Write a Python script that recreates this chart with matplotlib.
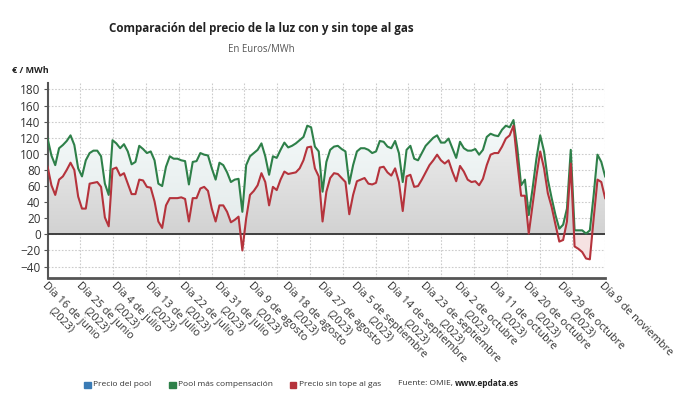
import datetime as dt

import matplotlib.pyplot as plt
import numpy as np
from matplotlib.colors import LinearSegmentedColormap
from matplotlib.patches import Rectangle
from matplotlib.path import Path

plt.rcParams['font.family'] = ['Open Sans', 'DejaVu Sans']

# datos diarios desde el 16 de junio hasta el 9 de noviembre de 2023
inicio = dt.date(2023, 6, 16)

pool_compensacion = [
    119, 98, 86, 107, 111, 116, 123, 111, 82, 72,
    92, 101, 104, 104, 97, 63, 49, 117, 113, 107,
    112, 103, 87, 90, 110, 106, 101, 103, 92, 63,
    60, 84, 97, 94, 94, 92, 91, 62, 90, 91,
    101, 99, 98, 82, 68, 89, 86, 77, 65, 68,
    69, 28, 86, 97, 101, 105, 113, 97, 74, 97,
    95, 105, 114, 108, 110, 113, 117, 121, 135, 133,
    109, 103, 53, 90, 105, 109, 110, 106, 103, 63,
    86, 103, 107, 107, 105, 101, 103, 116, 115, 109,
    107, 116, 101, 65, 105, 110, 94, 92, 101, 110,
    115, 120, 123, 114, 114, 119, 107, 95, 115, 107,
    104, 104, 106, 99, 105, 121, 125, 123, 122, 130,
    135, 133, 142, 107, 61, 68, 24, 57, 94, 123,
    103, 68, 45, 24, 7, 12, 32, 105, 5, 5,
    5, 1, 5, 49, 99, 90, 72,
]

precio_sin_tope = [
    84, 61, 49, 68, 72, 80, 89, 80, 47, 32,
    32, 63, 64, 65, 59, 21, 10, 81, 83, 73,
    76, 63, 50, 50, 68, 67, 59, 58, 41, 16,
    8, 36, 45, 45, 45, 46, 44, 16, 45, 45,
    57, 59, 54, 32, 16, 36, 36, 28, 15, 18,
    22, -20, 20, 49, 54, 61, 76, 65, 36, 59,
    55, 68, 78, 75, 76, 77, 82, 92, 108, 109,
    82, 72, 16, 53, 70, 76, 75, 70, 65, 25,
    49, 66, 68, 70, 63, 62, 64, 83, 84, 77,
    73, 82, 65, 29, 72, 74, 59, 60, 68, 77,
    86, 92, 99, 92, 88, 92, 78, 66, 85, 78,
    68, 65, 66, 61, 69, 86, 99, 101, 101, 109,
    119, 123, 135, 90, 48, 48, 1, 36, 72, 103,
    82, 51, 34, 12, -9, -7, 16, 88, -15, -18,
    -22, -30, -31, 20, 68, 65, 45,
]

meses = {6: 'junio', 7: 'julio', 8: 'agosto', 9: 'septiembre',
         10: 'octubre', 11: 'noviembre'}

x = np.arange(len(pool_compensacion))
verde = np.array(pool_compensacion, dtype=float)
rojo = np.array(precio_sin_tope, dtype=float)

fechas = [inicio + dt.timedelta(days=int(i)) for i in x]
pos_ticks = list(range(0, len(x) - 9, 9)) + [len(x) - 1]
etiquetas = []
for p in pos_ticks:
    f = fechas[p]
    txt = 'Día %d de %s' % (f.day, meses[f.month])
    if p != len(x) - 1:
        txt += '\n(2023)'
    etiquetas.append(txt)

fig = plt.figure(figsize=(6.9, 4.05), dpi=100)
ax = fig.add_axes([0.069, 0.314, 0.808, 0.481])

ymin, ymax = -54, 188


def relleno_degradado(y, color_arriba, color_abajo, tope, z):
    coll = ax.fill_between(x, 0, y, facecolor='none', edgecolor='none')
    camino = Path.make_compound_path(*coll.get_paths())
    cmap = LinearSegmentedColormap.from_list('deg', [color_abajo, color_arriba])
    grad = np.linspace(0, 1, 256).reshape(-1, 1)
    im = ax.imshow(grad, cmap=cmap, aspect='auto', origin='lower',
                   extent=[x[0], x[-1], 0, tope], zorder=z)
    im.set_clip_path(camino, transform=ax.transData)


relleno_degradado(verde, '#f5fafa', '#e3eaea', 145, 1)
relleno_degradado(np.clip(rojo, 0, None), '#f0f0f0', '#d2d2d2', 140, 2)
ax.fill_between(x, 0, rojo, where=rojo < 0, interpolate=True,
                facecolor='#f6e2e2', edgecolor='none', zorder=2)

ax.plot(x, verde, color='#2e8049', lw=1.5, zorder=5)
ax.plot(x, rojo, color='#b5333c', lw=1.5, zorder=5)
ax.axhline(0, color='#333333', lw=1.3, zorder=4)

ax.set_xlim(x[0], x[-1])
ax.set_ylim(ymin, ymax)

# rejilla punteada
for gx in np.linspace(x[0], x[-1], 18)[1:]:
    ax.axvline(gx, color='#cccccc', lw=0.8, ls=(0, (1.5, 1.5)), zorder=0.5)
ax.set_yticks(np.arange(-40, 181, 20))
ax.yaxis.grid(True, color='#cccccc', lw=0.8, ls=(0, (1.5, 1.5)), zorder=0.5)
ax.set_axisbelow(True)

ax.set_xticks(pos_ticks)
ax.set_xticklabels(etiquetas, rotation=-45, ha='left', va='top',
                   rotation_mode='anchor', multialignment='center',
                   fontsize=7.8, color='#333333')
ax.tick_params(axis='x', length=0, pad=2)
ax.tick_params(axis='y', length=3, width=0.8, color='#555555',
               labelsize=8.5, labelcolor='#333333', pad=2)

for lado in ['top', 'right']:
    ax.spines[lado].set_visible(False)
ax.spines['left'].set_color('#555555')
ax.spines['left'].set_linewidth(1.5)
ax.spines['bottom'].set_color('#555555')
ax.spines['bottom'].set_linewidth(2)

fig.text(0.379, 0.930, 'Comparación del precio de la luz con y sin tope al gas',
         ha='center', va='center', fontsize=8.4, fontweight='bold', color='#222222')
fig.text(0.379, 0.877, 'En Euros/MWh', ha='center', va='center',
         fontsize=6.9, color='#555555')
fig.text(0.017, 0.825, '€ / MWh', ha='left', va='center',
         fontsize=6.5, fontweight='bold', color='#222222')

# leyenda
series = [('Precio del pool', '#3a7bb5', 0.1217),
          ('Pool más compensación', '#2e8049', 0.245),
          ('Precio sin tope al gas', '#b5333c', 0.420)]
ly = 1 - 384 / 405
for nombre, color, lx in series:
    fig.patches.append(Rectangle((lx, ly - 0.010), 0.0095, 0.016,
                                 transform=fig.transFigure, color=color))
    fig.text(lx + 0.013, ly, nombre, ha='left', va='center',
             fontsize=6, color='#333333')
t = fig.text(0.577, ly, 'Fuente: OMIE, ', ha='left', va='center',
             fontsize=6, color='#333333')
fig.canvas.draw()
bb = t.get_window_extent().transformed(fig.transFigure.inverted())
fig.text(bb.x1, ly, 'www.epdata.es', ha='left', va='center',
         fontsize=6, color='#222222', fontweight='bold')

fig.savefig('out.png', dpi=100)
